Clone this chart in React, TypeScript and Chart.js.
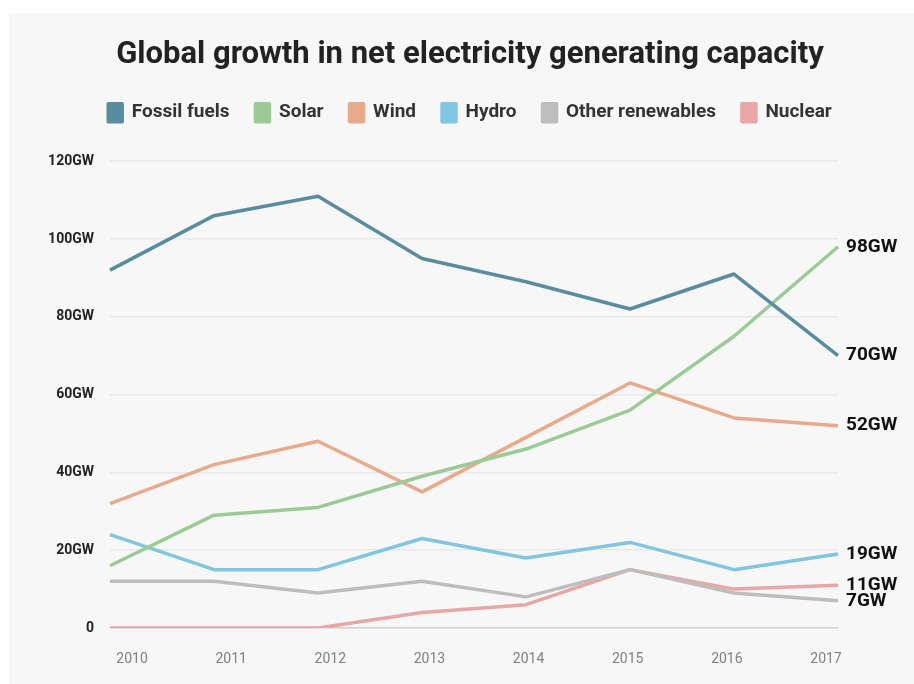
import React, { useEffect, useRef } from "react";
import { Chart, registerables } from "chart.js";

Chart.register(...registerables);

const years = ["2010", "2011", "2012", "2013", "2014", "2015", "2016", "2017"];
const fossilFuels = [92, 106, 111, 95, 89, 82, 91, 70];
const solar = [16, 29, 31, 39, 46, 56, 75, 98];
const wind = [32, 42, 48, 35, 49, 63, 54, 52];
const hydro = [24, 15, 15, 23, 18, 22, 15, 19];
const otherRenewables = [12, 12, 9, 12, 8, 15, 9, 7];
const nuclear = [0, 0, 0, 4, 6, 15, 10, 11];
const seriesNames = ["Fossil fuels", "Solar", "Wind", "Hydro", "Other renewables", "Nuclear"];
const seriesColors = ["#5a8ca1", "#9bcb94", "#e9a98c", "#82c5e0", "#bdbdbd", "#e8a6a6"];
const yTickValues = [0, 20, 40, 60, 80, 100, 120];
const titleText = "Global growth in net electricity generating capacity";

const endLabels = {
  id: "endLabels",
  afterDatasetsDraw(chart: any) {
    const ctx = chart.ctx;
    ctx.save();
    ctx.font = "bold 19px Roboto";
    ctx.fillStyle = "#111";
    ctx.textBaseline = "middle";
    ctx.textAlign = "left";
    chart.data.datasets.forEach((ds: any, i: number) => {
      const meta = chart.getDatasetMeta(i);
      const pt = meta.data[meta.data.length - 1];
      const v = ds.data[ds.data.length - 1];
      ctx.fillText(v + "GW", pt.x + 8, pt.y);
    });
    ctx.restore();
  },
};

export default function App() {
  const ref = useRef<HTMLCanvasElement | null>(null);
  useEffect(() => {
    document.body.style.margin = "0";
    const series = [fossilFuels, solar, wind, hydro, otherRenewables, nuclear];
    const chart = new Chart(ref.current as HTMLCanvasElement, {
      type: "line",
      data: {
        labels: years,
        datasets: series.map((d, i) => ({
          label: seriesNames[i],
          data: d,
          borderColor: seriesColors[i],
          backgroundColor: seriesColors[i],
          borderWidth: 3.5,
          pointRadius: 0,
          tension: 0,
          borderJoinStyle: "round" as const,
        })),
      },
      options: {
        animation: false,
        responsive: false,
        maintainAspectRatio: false,
        layout: { padding: { left: 17, right: 0, top: 0, bottom: 0 } },
        plugins: {
          title: {
            display: true,
            text: titleText,
            color: "#222",
            font: { family: "Roboto", weight: "bold", size: 31 },
            padding: { top: 24, bottom: 3 },
          },
          subtitle: {
            display: true,
            text: " ",
            weight: 500,
            font: { size: 1, lineHeight: 1 },
            padding: { top: 14, bottom: 14 },
          },
          legend: {
            display: true,
            labels: {
              color: "#333",
              font: { family: "Roboto", weight: "bold", size: 19 },
              boxWidth: 14,
              boxHeight: 18,
              padding: 26,
            },
          },
          tooltip: { enabled: false },
        },
        scales: {
          x: { type: "category", display: false },
          xl: {
            type: "linear",
            position: "bottom",
            min: -0.222,
            max: 7.121,
            grid: { display: false, drawTicks: false },
            border: { display: false },
            afterBuildTicks: (axis: any) => {
              axis.ticks = years.map((_, i) => ({ value: i }));
            },
            afterFit: (axis: any) => {
              axis.height = 56;
            },
            ticks: {
              color: "#808080",
              font: { family: "Roboto", size: 14 },
              padding: 23,
              maxRotation: 0,
              callback: (v: any) => years[Math.round(Number(v))],
            },
          },
          y: {
            min: 0,
            max: 120,
            afterBuildTicks: (axis: any) => {
              axis.ticks = yTickValues.map((v) => ({ value: v }));
            },
            afterFit: (axis: any) => {
              axis.width = 84;
            },
            grid: {
              drawTicks: false,
              lineWidth: 1.5,
              color: (c: any) => (c.tick && c.tick.value === 0 ? "#d0d0d0" : "#e9e9e9"),
            },
            border: { display: false },
            ticks: {
              color: "#222",
              font: { family: "Roboto", weight: "bold", size: 14 },
              padding: 16,
              callback: (v: any) => (Number(v) === 0 ? "0" : v + "GW"),
            },
          },
          yr: {
            position: "right",
            display: true,
            grid: { display: false },
            border: { display: false },
            ticks: { display: false },
            afterFit: (axis: any) => {
              axis.width = 76;
            },
          },
        },
      } as any,
      plugins: [endLabels],
    });
    return () => chart.destroy();
  }, []);
  return (
    <div style={{ background: "#fff", width: 914, height: 684, paddingLeft: 9, paddingTop: 13, boxSizing: "border-box" }}>
      <div style={{ background: "#f7f7f7", width: 905, height: 671 }}>
        <canvas ref={ref} width={905} height={671} style={{ display: "block" }} />
      </div>
    </div>
  );
}
